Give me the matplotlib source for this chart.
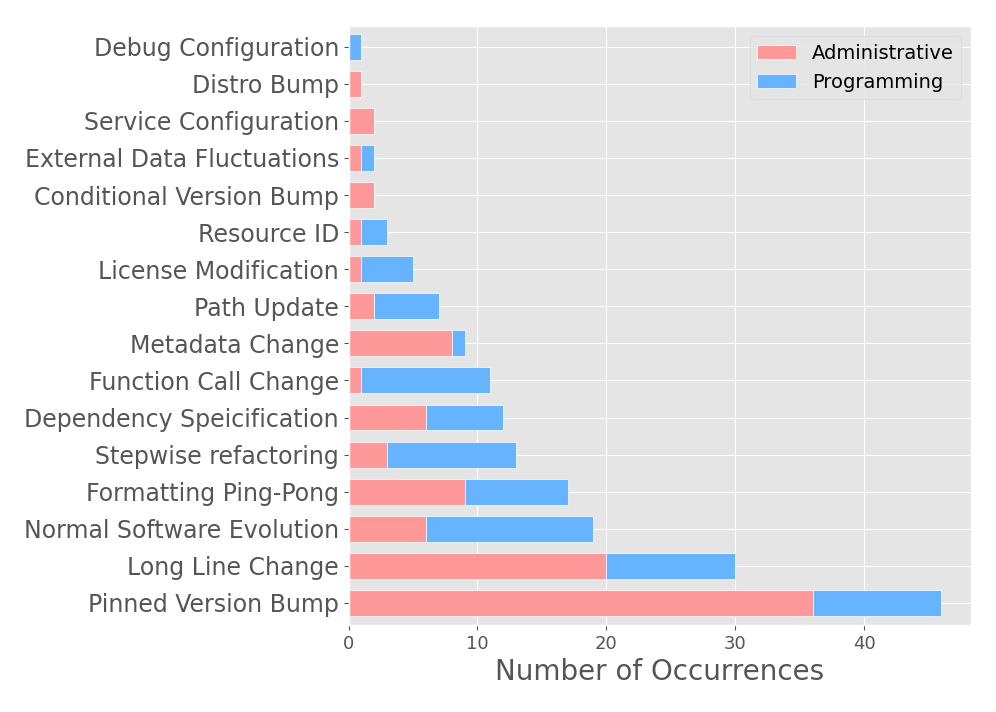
import matplotlib
matplotlib.use('Agg')
import matplotlib.pyplot as plt
import numpy as np

plt.style.use('ggplot')

categories = ['Pinned Version Bump', 'Long Line Change', 'Normal Software Evolution',
              'Formatting Ping-Pong', 'Stepwise refactoring', 'Dependency Speicification',
              'Function Call Change', 'Metadata Change', 'Path Update', 'License Modification',
              'Resource ID', 'Conditional Version Bump', 'External Data Fluctuations',
              'Service Configuration', 'Distro Bump', 'Debug Configuration']
administrative = [36, 20, 6, 9, 3, 6, 1, 8, 2, 1, 1, 2, 1, 2, 1, 0]
programming = [10, 10, 13, 8, 10, 6, 10, 1, 5, 4, 2, 0, 1, 0, 0, 1]

fig, ax = plt.subplots(figsize=(9.96, 7.12), dpi=100)
fig.subplots_adjust(left=0.35, right=0.975, top=0.963, bottom=0.122)

y = np.arange(len(categories))
ax.barh(y, administrative, height=0.7, color='#ff9999', edgecolor='white', linewidth=0.5,
        label='Administrative')
ax.barh(y, programming, height=0.7, left=administrative, color='#66b3ff', edgecolor='white',
        linewidth=0.5, label='Programming')

ax.set_yticks(y)
ax.set_yticklabels(categories, fontsize=17)
ax.tick_params(axis='x', labelsize=13)
ax.set_ylim(-0.6, len(categories) - 0.45)
ax.set_xlim(0, 48.3)
ax.set_xlabel('Number of Occurrences', fontsize=20)
ax.legend(loc='upper right', fontsize=14, facecolor='#e5e5e5', edgecolor='#d8d8d8')

plt.savefig('out.png', dpi=100)
